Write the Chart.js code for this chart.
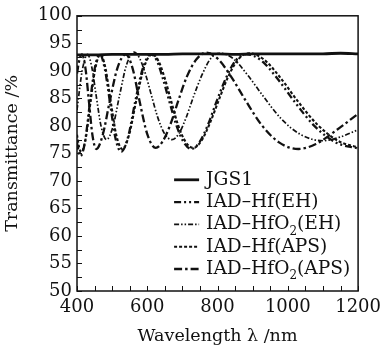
<!DOCTYPE html>
<html><head><meta charset="utf-8">
<script src="https://cdn.jsdelivr.net/npm/chart.js@4.4.0/dist/chart.umd.min.js"></script>
<style>html,body{margin:0;padding:0;background:#fff}</style>
</head><body>
<canvas id="c" width="387" height="347"></canvas>
<script>
// ---- data ----
const seriesLabels = ['JGS1', 'IAD–Hf(EH)', 'IAD–HfO₂(EH)', 'IAD–Hf(APS)', 'IAD–HfO₂(APS)'];
const xTickLabels = [400, 600, 800, 1000, 1200];
const yTickLabels = [50, 55, 60, 65, 70, 75, 80, 85, 90, 95, 100];

const jgs1X = [400, 450, 500, 550, 600, 650, 700, 750, 800, 850, 900, 950, 1000, 1050, 1100, 1150, 1200];
const jgs1Y = [92.9, 92.9, 93.0, 93.0, 93.0, 93.0, 93.1, 93.1, 93.1, 93.0, 93.1, 93.1, 93.1, 93.1, 93.1, 93.2, 93.1];

const hfEhX = [400, 405, 410, 423, 436, 450, 465, 479, 494, 509, 526, 545, 565, 587, 610, 627, 644, 663, 683, 704, 726, 748, 772, 797, 824, 852, 883, 924, 969, 1019, 1074, 1136, 1200];
const hfEhY = [77.0, 75.2, 74.5, 77.2, 83.8, 90.3, 93.0, 90.4, 84.2, 77.9, 75.3, 77.9, 84.2, 90.4, 93.0, 91.9, 88.7, 84.4, 80.1, 77.0, 75.8, 77.0, 80.1, 84.4, 88.7, 91.9, 93.0, 91.9, 88.7, 84.4, 80.1, 77.0, 75.9];

const hfo2EhX = [400, 415, 430, 442, 455, 469, 484, 502, 521, 541, 563, 578, 595, 612, 630, 649, 670, 690, 710, 732, 756, 780, 807, 845, 886, 931, 981, 1037, 1100, 1150, 1200];
const hfo2EhY = [82.9, 90.1, 93.0, 90.7, 85.3, 79.8, 77.5, 79.8, 85.5, 91.1, 93.4, 92.3, 89.4, 85.5, 81.5, 78.6, 77.5, 78.6, 81.4, 85.4, 89.3, 92.2, 93.2, 92.2, 89.2, 85.3, 81.3, 78.4, 77.3, 78.0, 79.3];

const hfApsX = [400, 406, 412, 425, 438, 452, 467, 481, 496, 512, 529, 548, 568, 590, 614, 631, 649, 668, 687, 709, 731, 753, 777, 803, 830, 859, 890, 931, 977, 1027, 1083, 1145, 1200];
const hfApsY = [78.4, 76.1, 75.2, 77.8, 84.1, 90.4, 93.0, 90.5, 84.4, 78.3, 75.8, 78.3, 84.4, 90.5, 93.0, 91.9, 88.8, 84.5, 80.3, 77.1, 76.0, 77.2, 80.3, 84.6, 88.9, 92.1, 93.2, 92.1, 88.9, 84.6, 80.3, 77.2, 76.1];

const hfo2ApsX = [400, 407, 414, 424, 434, 444, 455, 473, 493, 515, 539, 558, 578, 600, 624, 644, 666, 689, 713, 740, 768, 802, 839, 880, 925, 975, 1030, 1080, 1140, 1200];
const hfo2ApsY = [89.5, 92.1, 93.0, 90.5, 84.4, 78.3, 75.8, 78.3, 84.4, 90.5, 93.0, 90.5, 84.5, 78.5, 76.0, 77.2, 80.3, 84.7, 89.0, 92.1, 93.3, 92.1, 88.9, 84.6, 80.2, 77.0, 75.8, 76.7, 79.3, 82.2];

// ---- build chart ----
const pts = (xs, ys) => xs.map((x, i) => ({x, y: ys[i]}));
const FONT = 'DejaVu Serif';
const INK = '#111';

const styles = [
  {borderWidth: 2.8, borderDash: []},
  {borderWidth: 2.3, borderDash: [7, 3, 2, 3, 2, 3]},
  {borderWidth: 1.7, borderDash: [5, 2, 1.5, 2, 1.5, 2]},
  {borderWidth: 2.1, borderDash: [3, 2]},
  {borderWidth: 2.3, borderDash: [8, 3, 2.5, 3]}
];
const seriesData = [pts(jgs1X, jgs1Y), pts(hfEhX, hfEhY), pts(hfo2EhX, hfo2EhY), pts(hfApsX, hfApsY), pts(hfo2ApsX, hfo2ApsY)];

const datasets = seriesLabels.map((lab, i) => ({
  label: lab,
  data: seriesData[i],
  borderColor: INK,
  borderWidth: styles[i].borderWidth,
  borderDash: styles[i].borderDash,
  pointRadius: 0,
  fill: false,
  cubicInterpolationMode: 'monotone'
}));

const framePlugin = {
  id: 'frame',
  afterDatasetsDraw(chart) {
    const {ctx, chartArea: a, scales: {x, y}} = chart;
    ctx.save();
    ctx.strokeStyle = INK;
    ctx.setLineDash([]);
    ctx.lineWidth = 1.5;
    ctx.strokeRect(a.left, a.top, a.right - a.left, a.bottom - a.top);
    ctx.lineWidth = 1;
    x.ticks.forEach(t => {
      const px = Math.round(x.getPixelForValue(t.value)) + 0.5;
      ctx.beginPath(); ctx.moveTo(px, a.bottom); ctx.lineTo(px, a.bottom - 5); ctx.stroke();
    });
    y.ticks.forEach(t => {
      const py = Math.round(y.getPixelForValue(t.value)) + 0.5;
      ctx.beginPath(); ctx.moveTo(a.left, py); ctx.lineTo(a.left + 5, py); ctx.stroke();
    });
    // legend
    const lx = a.right - 184, ly0 = a.top + 164, dy = 22.3;
    chart.data.datasets.forEach((ds, i) => {
      const yy = ly0 + i * dy;
      ctx.strokeStyle = INK;
      ctx.lineWidth = ds.borderWidth;
      ctx.setLineDash(ds.borderDash);
      ctx.beginPath(); ctx.moveTo(lx, yy); ctx.lineTo(lx + 25, yy); ctx.stroke();
      ctx.setLineDash([]);
      ctx.fillStyle = INK;
      ctx.textBaseline = 'middle';
      ctx.textAlign = 'left';
      let tx = lx + 32;
      const parts = ds.label.split('₂');
      parts.forEach((p, k) => {
        ctx.font = '18.6px "' + FONT + '"';
        ctx.fillText(p, tx, yy);
        tx += ctx.measureText(p).width;
        if (k < parts.length - 1) {
          ctx.font = '12px "' + FONT + '"';
          ctx.fillText('2', tx, yy + 7);
          tx += ctx.measureText('2').width;
        }
      });
    });
    ctx.restore();
  }
};

new Chart(document.getElementById('c'), {
  type: 'line',
  data: {datasets},
  options: {
    responsive: false,
    animation: false,
    devicePixelRatio: 1,
    layout: {padding: {left: 0, right: 25, top: 14, bottom: 0}},
    plugins: {legend: {display: false}, tooltip: {enabled: false}},
    scales: {
      x: {
        type: 'linear', min: 400, max: 1200,
        afterFit: s => { s.height = 56; },
        grid: {display: false, drawTicks: false},
        border: {display: false},
        ticks: {
          stepSize: 50, autoSkip: false, maxRotation: 0, padding: 6, color: INK,
          font: {family: FONT, size: 18},
          callback: v => xTickLabels.includes(v) ? String(v) : ''
        },
        title: {display: true, text: 'Wavelength λ /nm', color: INK, font: {family: FONT, size: 17.5}, padding: {top: 0, bottom: 0}}
      },
      y: {
        min: 50, max: 100,
        afterFit: s => { s.width = 77; },
        grid: {display: false, drawTicks: false},
        border: {display: false},
        ticks: {
          stepSize: 2.5, autoSkip: false, padding: 5, color: INK,
          font: {family: FONT, size: 18},
          callback: v => yTickLabels.includes(v) ? String(v) : ''
        },
        title: {display: true, text: 'Transmittance /%', color: INK, font: {family: FONT, size: 17.5}, padding: {top: 2, bottom: 0}}
      }
    }
  },
  plugins: [framePlugin]
});
</script>
</body></html>
